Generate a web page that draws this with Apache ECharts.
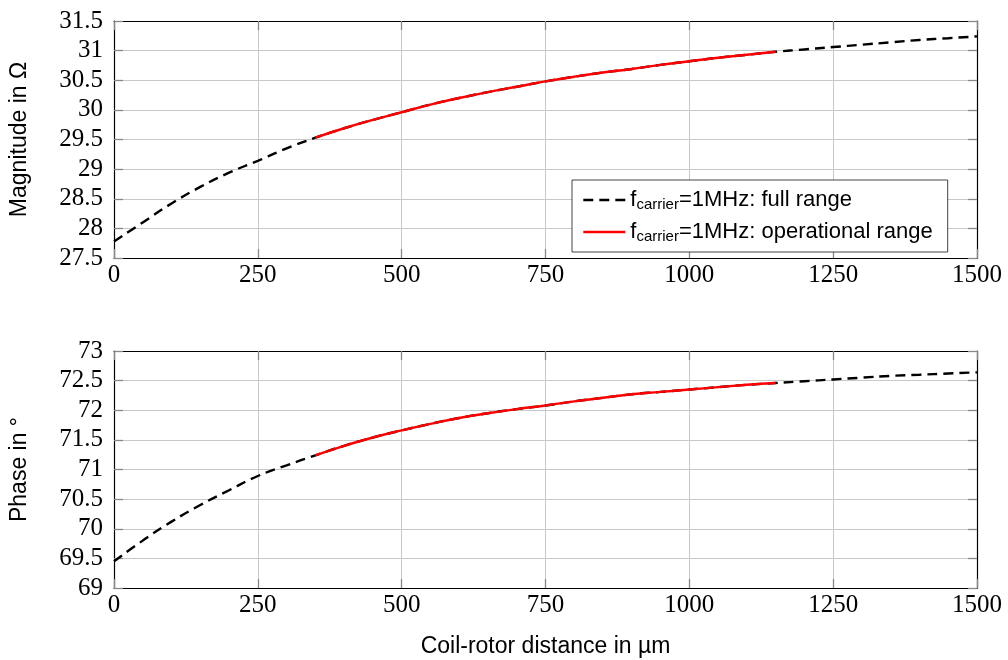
<!DOCTYPE html>
<html>
<head>
    <meta charset="utf-8">
    <title>Coil-rotor distance</title>
    <style type="text/css">
        * {
            margin: 0;
            padding: 0;
        }
    </style>
</head>
<body>
    <div id="chart" style="width: 1008px; height: 660px;"></div>

    <script src="https://cdn.jsdelivr.net/npm/echarts@6/dist/echarts.min.js"></script>
    <script type="text/javascript">
        // distance in um
        var distance = [0, 50, 100, 150, 200, 250, 300, 350, 400, 450, 500, 550, 600, 650, 700, 750,
            800, 850, 900, 950, 1000, 1050, 1100, 1150, 1200, 1250, 1300, 1350, 1400, 1450, 1500];
        // magnitude in Ohm
        var magnitude = [27.78, 28.10, 28.42, 28.70, 28.94, 29.14, 29.35, 29.53, 29.69, 29.83, 29.96,
            30.09, 30.20, 30.30, 30.39, 30.48, 30.56, 30.63, 30.69, 30.76, 30.82, 30.88, 30.93, 30.98,
            31.02, 31.06, 31.10, 31.14, 31.18, 31.21, 31.24];
        // phase in degree
        var phase = [69.45, 69.80, 70.12, 70.40, 70.65, 70.89, 71.07, 71.24, 71.40, 71.54, 71.66,
            71.77, 71.87, 71.95, 72.02, 72.08, 72.15, 72.21, 72.27, 72.31, 72.35, 72.39, 72.43, 72.46,
            72.49, 72.52, 72.55, 72.58, 72.60, 72.62, 72.64];
        var opRange = [350, 1150];
        var seriesNames = ['full range', 'operational range'];

        function pairs(ys, onlyOp) {
            var out = [];
            for (var i = 0; i < distance.length; i++) {
                if (onlyOp && (distance[i] < opRange[0] || distance[i] > opRange[1])) continue;
                out.push([distance[i], ys[i]]);
            }
            return out;
        }

        var serif = 'Liberation Serif';
        var sans = 'Liberation Sans';
        var gridLine = { show: true, lineStyle: { color: '#c8c8c8', width: 1 } };
        var frame = { show: true, onZero: false, lineStyle: { color: '#000', width: 1.2 } };
        var ticks = { show: true, inside: true, length: 9, lineStyle: { color: '#888', width: 1.3 } };

        function xAxisFor(grid, pos, withLabels) {
            return {
                type: 'value', gridIndex: grid, position: pos,
                min: 0, max: 1500, interval: 250,
                axisLine: frame, axisTick: ticks,
                splitLine: withLabels ? gridLine : { show: false },
                axisLabel: {
                    show: withLabels, margin: 5,
                    fontFamily: serif, fontSize: 25, color: '#000',
                    formatter: function(v) { return String(v); }
                }
            };
        }

        function yAxisFor(grid, pos, min, max, name) {
            var main = pos === 'left';
            return {
                type: 'value', gridIndex: grid, position: pos,
                min: min, max: max, interval: 0.5,
                name: main ? name : '', nameLocation: 'middle', nameGap: 83,
                nameTextStyle: { fontFamily: sans, fontSize: 23, color: '#000' },
                axisLine: frame, axisTick: ticks,
                splitLine: main ? gridLine : { show: false },
                axisLabel: {
                    show: main, margin: 11,
                    fontFamily: serif, fontSize: 25, color: '#000',
                    formatter: function(v) { return String(v); }
                }
            };
        }

        var bottomX = xAxisFor(1, 'bottom', true);
        bottomX.name = 'Coil-rotor distance in µm';
        bottomX.nameLocation = 'middle';
        bottomX.nameGap = 47;
        bottomX.nameTextStyle = { fontFamily: sans, fontSize: 23, color: '#000' };

        var chart = echarts.init(document.getElementById('chart'));
        var option = {
            animation: false,
            backgroundColor: '#fff',
            grid: [
                { left: 113, right: 31, top: 21, height: 237 },
                { left: 113, right: 31, top: 351, height: 237 }
            ],
            xAxis: [
                xAxisFor(0, 'bottom', true),
                xAxisFor(0, 'top', false),
                bottomX,
                xAxisFor(1, 'top', false)
            ],
            yAxis: [
                yAxisFor(0, 'left', 27.5, 31.5, 'Magnitude in Ω'),
                yAxisFor(0, 'right', 27.5, 31.5, ''),
                yAxisFor(1, 'left', 69, 73, 'Phase in °'),
                yAxisFor(1, 'right', 69, 73, '')
            ],
            legend: {
                data: seriesNames,
                orient: 'vertical',
                left: 572, top: 180,
                padding: [8, 15, 8, 10],
                itemGap: 8,
                itemWidth: 42,
                itemHeight: 14,
                borderColor: '#444',
                borderWidth: 1,
                borderRadius: 0,
                backgroundColor: '#fff',
                itemStyle: { opacity: 0 },
                lineStyle: { width: 2.6 },
                formatter: function(name) {
                    return '{t|f}{s|carrier}{t|=1MHz: ' + name + '}';
                },
                textStyle: {
                    rich: {
                        t: { fontFamily: sans, fontSize: 22, color: '#000', lineHeight: 24 },
                        s: { fontFamily: sans, fontSize: 15, color: '#000', padding: [9, 0, 0, 0], lineHeight: 24 }
                    }
                }
            },
            series: [{
                name: seriesNames[0], type: 'line', xAxisIndex: 0, yAxisIndex: 0,
                data: pairs(magnitude, false), smooth: true, showSymbol: false, symbol: 'none',
                lineStyle: { color: '#000', width: 2.4, type: [10, 6] }, itemStyle: { color: '#000' }, z: 2
            }, {
                name: seriesNames[1], type: 'line', xAxisIndex: 0, yAxisIndex: 0,
                data: pairs(magnitude, true), smooth: true, showSymbol: false, symbol: 'none',
                lineStyle: { color: '#ff0000', width: 2.4 }, itemStyle: { color: '#ff0000' }, z: 3
            }, {
                name: seriesNames[0], type: 'line', xAxisIndex: 2, yAxisIndex: 2,
                data: pairs(phase, false), smooth: true, showSymbol: false, symbol: 'none',
                lineStyle: { color: '#000', width: 2.4, type: [10, 6] }, itemStyle: { color: '#000' }, z: 2
            }, {
                name: seriesNames[1], type: 'line', xAxisIndex: 2, yAxisIndex: 2,
                data: pairs(phase, true), smooth: true, showSymbol: false, symbol: 'none',
                lineStyle: { color: '#ff0000', width: 2.4 }, itemStyle: { color: '#ff0000' }, z: 3
            }]
        };
        chart.setOption(option, true);
    </script>
</body>
</html>
